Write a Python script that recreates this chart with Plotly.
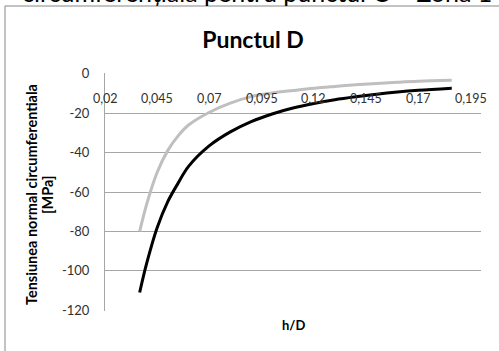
import plotly.graph_objects as go

# h/D ratios and circumferential normal stress [MPa] for the two curves
h_over_d = [0.0366, 0.040, 0.045, 0.050, 0.055, 0.060, 0.070, 0.080, 0.090,
            0.100, 0.110, 0.120, 0.130, 0.140, 0.150, 0.160, 0.170, 0.186]
stress_black = [-111, -96, -78, -65, -55.5, -47, -36.5, -29.5, -24.3,
                -20.4, -17.4, -15.1, -13.2, -11.7, -10.4, -9.3, -8.4, -7.3]
stress_grey = [-80, -66, -50, -39, -31.5, -26, -19.5, -14.9, -11.6,
               -9.8, -8.5, -7.3, -6.4, -5.6, -4.9, -4.3, -3.8, -3.3]

x_tick_vals = [0.02, 0.045, 0.07, 0.095, 0.12, 0.145, 0.17, 0.195]
x_tick_text = ["0,02", "0,045", "0,07", "0,095", "0,12", "0,145", "0,17", "0,195"]
y_tick_vals = [0, -20, -40, -60, -80, -100, -120]
y_tick_text = ["0", "-20", "-40", "-60", "-80", "-100", "-120"]

FONT = "Lato"
W, H = 499, 351
ML, MR, MT, MB = 105, 18, 73, 40
PW, PH = W - ML - MR, H - MT - MB


def px_to_paper_x(px):
    return (px - ML) / PW


def px_to_paper_y(py):
    return (H - MB - py) / PH


fig = go.Figure()
fig.add_trace(go.Scatter(x=h_over_d, y=stress_grey, mode="lines",
                         line=dict(color="#BFBFBF", width=3, shape="spline"),
                         showlegend=False))
fig.add_trace(go.Scatter(x=h_over_d, y=stress_black, mode="lines",
                         line=dict(color="#000000", width=3, shape="spline"),
                         showlegend=False))

fig.update_layout(
    width=W, height=H,
    margin=dict(l=ML, r=MR, t=MT, b=MB),
    paper_bgcolor="white", plot_bgcolor="white",
    font=dict(family=FONT, size=12, color="#303030"),
    title=dict(text="<b>Punctul D</b>", x=253 / W, xanchor="center",
               y=1 - 40 / H, yanchor="middle",
               font=dict(family=FONT, size=23, color="#000000")),
    xaxis=dict(range=[0.02, 0.2], showticklabels=False,
               showgrid=False, zeroline=False, showline=False, ticks=""),
    yaxis=dict(range=[-120.4, 0.4], tickmode="array",
               tickvals=y_tick_vals, ticktext=y_tick_text,
               showgrid=True, gridcolor="#A6A6A6", gridwidth=1,
               zeroline=False, showline=True, linecolor="#A6A6A6", linewidth=1,
               ticks="", ticklabelstandoff=12,
               tickfont=dict(size=13, color="#303030")),
)

# x tick labels sit just under the zero line, placed on the data scale
for val, txt in zip(x_tick_vals, x_tick_text):
    fig.add_annotation(text=txt, xref="x", yref="paper",
                       x=val, y=px_to_paper_y(99), xanchor="center", yanchor="middle",
                       showarrow=False, font=dict(family=FONT, size=12.5, color="#303030"))

# y axis title, two rotated lines
for line_text, px in [("<b>Tensiunea normal circumferentiala</b>", 31),
                      ("<b>[MPa]</b>", 47)]:
    fig.add_annotation(text=line_text, xref="paper", yref="paper",
                       x=px_to_paper_x(px), y=px_to_paper_y(195),
                       xanchor="center", yanchor="middle", textangle=-90,
                       showarrow=False, font=dict(family=FONT, size=14.5, color="#000000"))

# x axis title under the plot area
fig.add_annotation(text="<b>h/D</b>", xref="paper", yref="paper",
                   x=0.5, y=px_to_paper_y(325), xanchor="center", yanchor="middle",
                   showarrow=False, font=dict(family=FONT, size=13, color="#000000"))

# caption line of the surrounding document, partly above the frame
fig.add_annotation(text="circumferențiala pentru punctul C – Zona 1",
                   xref="paper", yref="paper",
                   x=px_to_paper_x(257), y=px_to_paper_y(-8),
                   xanchor="center", yanchor="middle", showarrow=False,
                   font=dict(family=FONT, size=25, color="#000000"))

# chart frame
fig.add_shape(type="rect", xref="paper", yref="paper",
              x0=px_to_paper_x(5), x1=px_to_paper_x(520),
              y0=px_to_paper_y(380), y1=px_to_paper_y(6),
              line=dict(color="#868686", width=1), fillcolor="rgba(0,0,0,0)",
              layer="below")

fig.write_html("out.html")
